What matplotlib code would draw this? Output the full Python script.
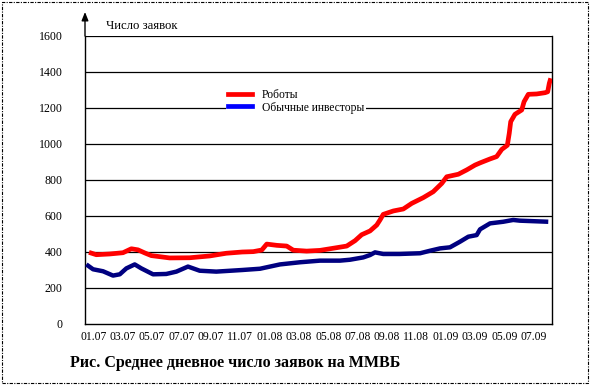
import matplotlib
matplotlib.use("Agg")
import matplotlib.pyplot as plt
from matplotlib.lines import Line2D
from matplotlib.patches import Rectangle

# months since Jan 2007 (0 = 01.07)
robots_t = [-0.31, 0.19, 1.10, 2.01, 2.58, 3.03, 3.49, 3.94, 5.19, 6.56, 7.92, 9.05,
            10.14, 10.89, 11.47, 11.81, 12.49, 13.17, 13.62, 14.53, 15.44, 16.58,
            17.26, 17.83, 18.28, 18.85, 19.31, 19.53, 19.75, 20.44, 21.12, 21.69,
            22.48, 23.16, 23.74, 24.08, 24.87, 25.44, 26.01, 26.35, 27.03, 27.48,
            27.83, 28.21, 28.34, 28.44, 28.73, 29.19, 29.35, 29.64, 30.21, 30.78,
            30.96, 31.07, 31.17]
robots_v = [398, 385, 389, 396, 418, 412, 395, 380, 367, 368, 378, 393,
            400, 402, 411, 444, 437, 433, 410, 405, 409, 424,
            433, 463, 496, 517, 550, 578, 609, 628, 639, 670,
            702, 735, 781, 818, 832, 856, 883, 895, 917, 930,
            970, 993, 1059, 1124, 1165, 1189, 1235, 1276, 1278, 1285,
            1290, 1337, 1365]

ordinary_t = [-0.49, -0.03, 0.65, 1.33, 1.79, 2.24, 2.81, 3.26, 4.06, 4.96, 5.65,
              6.44, 7.24, 8.37, 10.14, 11.35, 12.71, 14.08, 15.44, 16.80, 17.48,
              18.39, 18.85, 19.19, 19.75, 20.85, 22.26, 22.94, 23.62, 24.30, 24.98,
              25.55, 26.12, 26.35, 27.03, 27.93, 28.61, 29.07, 31.00]
ordinary_v = [331, 304, 293, 269, 276, 309, 331, 309, 276, 278, 291,
              319, 296, 291, 300, 307, 331, 343, 352, 352, 357,
              370, 383, 398, 389, 389, 393, 407, 420, 426, 457,
              485, 494, 526, 559, 568, 578, 574, 568]

tick_labels = ["01.07", "03.07", "05.07", "07.07", "09.07", "11.07", "01.08", "03.08",
               "05.08", "07.08", "09.08", "11.08", "01.09", "03.09", "05.09", "07.09"]
tick_pos = [2 * i for i in range(len(tick_labels))]
y_ticks = [0, 200, 400, 600, 800, 1000, 1200, 1400, 1600]

series_names = ["Роботы", "Обычные инвесторы"]
y_title = "Число заявок"
caption = "Рис. Среднее дневное число заявок на ММВБ"

W, H = 590, 386
fig = plt.figure(figsize=(W / 100, H / 100), dpi=100)
serif = "Liberation Serif"

L, R, T, B = 85, 552, 36, 324
ax = fig.add_axes([L / W, 1 - B / H, (R - L) / W, (B - T) / H])
ax.set_xlim((L - 93.5) / 14.67, (R - 93.5) / 14.67)
ax.set_ylim(0, 1600)

for y in y_ticks[1:]:
    ax.axhline(y, color="black", lw=0.9, zorder=1)

ax.plot(robots_t, robots_v, color="#ff0000", lw=3.4, zorder=3,
        solid_joinstyle="round", solid_capstyle="butt")
ax.plot(ordinary_t, ordinary_v, color="#000080", lw=3.2, zorder=3,
        solid_joinstyle="round", solid_capstyle="butt")

ax.spines["top"].set_visible(False)
for s in ["left", "bottom", "right"]:
    ax.spines[s].set_linewidth(1.0)
    ax.spines[s].set_color("black")

ax.set_yticks(y_ticks)
ax.set_yticklabels([str(v) for v in y_ticks], fontfamily=serif, fontsize=8.6)
ax.set_xticks(tick_pos)
ax.set_xticklabels(tick_labels, fontfamily=serif, fontsize=8.4)
ax.tick_params(axis="y", length=0, pad=16)
ax.tick_params(axis="x", length=0, pad=5)

# y-axis arrow
ax.annotate("", xy=(L / W, 1 - 12 / H), xytext=(L / W, 1 - T / H),
            xycoords="figure fraction", textcoords="figure fraction",
            arrowprops=dict(arrowstyle="-|>,head_length=0.5,head_width=0.2",
                            color="black", lw=1.0, shrinkA=0, shrinkB=0))

fig.text(106 / W, 1 - 26 / H, y_title, fontfamily=serif, fontsize=9.2,
         ha="left", va="center")

handles = [Line2D([], [], color="#ff0000", lw=3.4),
           Line2D([], [], color="#0000ff", lw=3.4)]
leg = ax.legend(handles, series_names, loc="center left",
                bbox_to_anchor=(226 / W, 1 - 101.5 / H), bbox_transform=fig.transFigure,
                prop={"family": serif, "size": 8.4}, frameon=True, framealpha=1,
                facecolor="white", edgecolor="none", fancybox=False,
                handlelength=2.1, handletextpad=0.8, labelspacing=0.0,
                borderpad=0.15, borderaxespad=0)
leg.set_zorder(2)

fig.text(70 / W, 1 - 363 / H, caption, fontfamily=serif, fontsize=11.5,
         fontweight="bold", ha="left", va="center")

# dash-dot frame
fig.add_artist(Rectangle((2 / W, 3 / H), 586 / W, 381 / H, transform=fig.transFigure,
                         fill=False, lw=0.8, color="black",
                         linestyle=(0, (3, 1.2, 1, 1.2))))

fig.savefig("out.png", dpi=100)
